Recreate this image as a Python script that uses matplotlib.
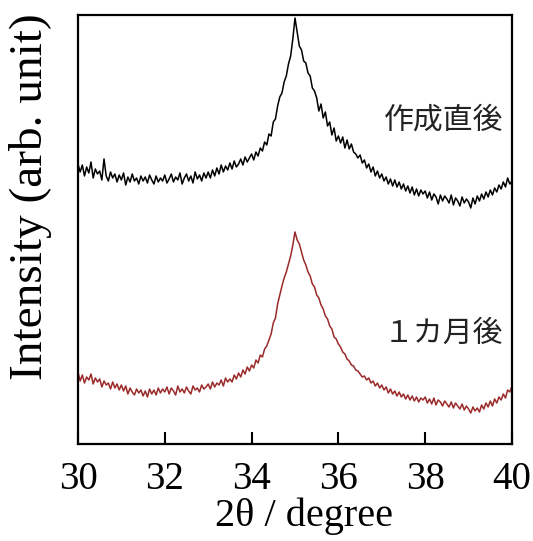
import numpy as np
import matplotlib

matplotlib.use("Agg")

import matplotlib.pyplot as plt

# 2theta grid, 0.05 degree step
two_theta = np.linspace(30.0, 40.0, 201)

# as-prepared (作成直後), arbitrary units
fresh = [
    280, 272, 279, 268, 277, 271, 282, 266, 275, 270,
    273, 264, 285, 268, 263, 272, 266, 270, 262, 269,
    264, 271, 259, 267, 262, 270, 263, 266, 260, 268,
    263, 267, 261, 269, 264, 260, 268, 262, 266, 263,
    269, 261, 265, 270, 262, 267, 264, 271, 260, 266,
    270, 263, 268, 261, 272, 265, 269, 263, 271, 266,
    272, 266, 274, 268, 276, 270, 279, 272, 278, 274,
    281, 275, 283, 277, 280, 285, 279, 287, 282, 286,
    290, 284, 292, 288, 296, 293, 302, 299, 310, 308,
    322, 325, 338, 347, 351, 362, 368, 380, 388, 405,
    426, 412, 398, 394, 383, 381, 371, 368, 356, 353,
    346, 333, 340, 326, 332, 318, 322, 309, 316, 303,
    308, 301, 307, 296, 304, 295, 300, 292, 290, 286,
    289, 281, 284, 276, 280, 272, 277, 268, 273, 266,
    270, 263, 267, 260, 265, 258, 264, 257, 262, 255,
    260, 253, 258, 251, 257, 249, 255, 248, 254, 250,
    253, 246, 252, 244, 250, 247, 240, 249, 243, 248,
    245, 241, 249, 239, 246, 243, 238, 247, 241, 245,
    242, 236, 246, 240, 248, 243, 250, 245, 252, 247,
    254, 249, 256, 252, 259, 255, 262, 257, 266, 260,
    263,
]

# after one month (１カ月後)
aged = [
    72, 63, 69, 61, 67, 64, 70, 60, 66, 62,
    65, 57, 63, 59, 61, 55, 62, 56, 60, 54,
    59, 53, 58, 50, 56, 52, 49, 55, 51, 54,
    48, 53, 47, 55, 50, 54, 49, 56, 51, 55,
    52, 57, 50, 56, 53, 49, 58, 52, 55, 51,
    57, 53, 50, 58, 54, 56, 52, 59, 55, 57,
    60, 55, 62, 57, 61, 59, 64, 58, 66, 62,
    65, 62, 69, 65, 71, 67, 74, 70, 77, 73,
    79, 76, 84, 81, 89, 87, 95, 98, 104, 110,
    121, 126, 140, 149, 158, 166, 172, 180, 188, 199,
    212, 204, 200, 192, 184, 179, 172, 168, 160, 157,
    149, 146, 139, 135, 128, 125, 118, 115, 107, 105,
    100, 97, 92, 90, 85, 83, 79, 78, 74, 73,
    70, 67, 68, 64, 66, 61, 63, 58, 61, 56,
    59, 54, 57, 51, 55, 50, 53, 48, 52, 47,
    50, 45, 49, 44, 48, 43, 47, 42, 46, 44,
    47, 41, 45, 40, 46, 39, 44, 42, 38, 43,
    40, 37, 42, 36, 41, 38, 35, 40, 34, 38,
    35, 31, 37, 33, 36, 32, 39, 35, 41, 37,
    43, 38, 45, 41, 47, 44, 50, 46, 54, 52,
    58,
]

labels = ["作成直後", "１カ月後"]
x_ticks = [30, 32, 34, 36, 38, 40]

fig = plt.figure(figsize=(5.33, 5.41), dpi=100)
ax = fig.add_axes([0.1463, 0.1793, 0.8143, 0.7930])

ax.plot(two_theta, fresh, color="black", lw=1.1)
ax.plot(two_theta, aged, color="#9b2a2a", lw=1.1)

jp = ["Noto Sans CJK JP", "DejaVu Sans"]
ax.text(39.8, 324, labels[0], ha="right", va="center", fontsize=21.5,
        family=jp, color="#222222")
ax.text(39.8, 111, labels[1], ha="right", va="center", fontsize=21.5,
        family=jp, color="#222222")

ax.set_xlim(30, 40)
ax.set_ylim(0, 429)
ax.set_xticks(x_ticks)
ax.set_yticks([])
ax.tick_params(axis="x", direction="in", length=9, width=1.5, pad=12,
               labelsize=28)
for lab in ax.get_xticklabels():
    lab.set_family("Liberation Serif")
for sp in ax.spines.values():
    sp.set_linewidth(1.6)

ax.set_xlabel("2θ / degree", family="Liberation Serif", fontsize=29)
ax.xaxis.set_label_coords(0.52, -0.125)
ax.set_ylabel("Intensity (arb. unit)", family="Liberation Serif",
              fontsize=34)
ax.yaxis.set_label_coords(-0.06, 0.576)

fig.savefig("out.png", dpi=100)
